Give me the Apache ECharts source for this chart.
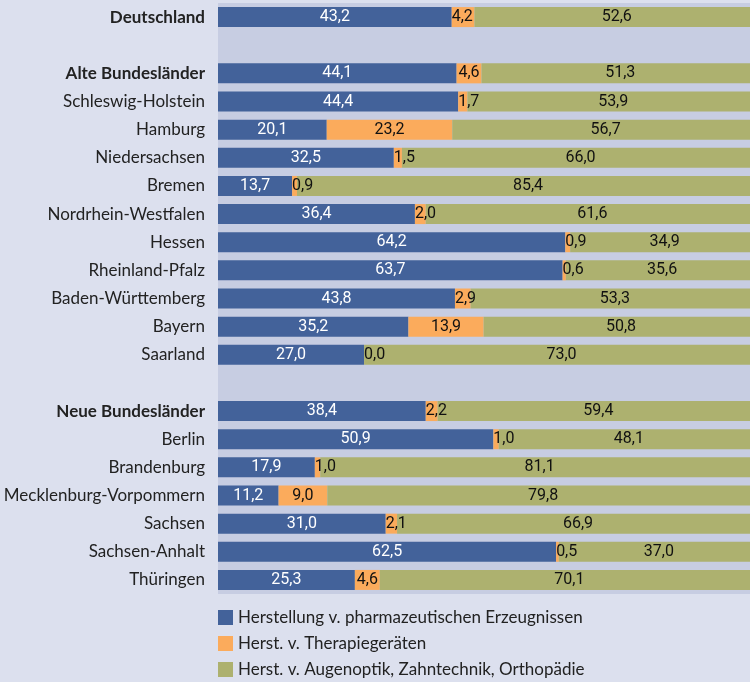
<!DOCTYPE html>
<html lang="de">

<head>
  <meta charset="UTF-8">
  <title>Anteile Medizintechnik</title>
  <script src="https://cdn.jsdelivr.net/npm/echarts@6/dist/echarts.min.js"></script>
  <style>
    * {
      padding: 0;
      margin: 0;
    }

    #box {
      width: 750px;
      height: 682px;
    }
  </style>
</head>

<body>
  <div id="box"></div>
  <script>
    // Zeilen (leere Namen = Abstandszeilen)
    var laender = ['Deutschland', ' ', 'Alte Bundesländer', 'Schleswig-Holstein', 'Hamburg', 'Niedersachsen',
      'Bremen', 'Nordrhein-Westfalen', 'Hessen', 'Rheinland-Pfalz', 'Baden-Württemberg', 'Bayern', 'Saarland',
      '  ', 'Neue Bundesländer', 'Berlin', 'Brandenburg', 'Mecklenburg-Vorpommern', 'Sachsen', 'Sachsen-Anhalt',
      'Thüringen']
    var fett = ['Deutschland', 'Alte Bundesländer', 'Neue Bundesländer']

    var pharma = [43.2, null, 44.1, 44.4, 20.1, 32.5, 13.7, 36.4, 64.2, 63.7, 43.8, 35.2, 27.0,
      null, 38.4, 50.9, 17.9, 11.2, 31.0, 62.5, 25.3]
    var therapie = [4.2, null, 4.6, 1.7, 23.2, 1.5, 0.9, 2.0, 0.9, 0.6, 2.9, 13.9, 0.0,
      null, 2.2, 1.0, 1.0, 9.0, 2.1, 0.5, 4.6]
    var optik = [52.6, null, 51.3, 53.9, 56.7, 66.0, 85.4, 61.6, 34.9, 35.6, 53.3, 50.8, 73.0,
      null, 59.4, 48.1, 81.1, 79.8, 66.9, 37.0, 70.1]

    var namen = ['Herstellung v. pharmazeutischen Erzeugnissen', 'Herst. v. Therapiegeräten',
      'Herst. v. Augenoptik, Zahntechnik, Orthopädie']

    function fmt(p) {
      return p.value == null ? '' : p.value.toFixed(1).replace('.', ',')
    }

    // kleine Segmente: Beschriftung links ansetzen statt mittig
    var therapieDaten = therapie.map(function (v) {
      if (v != null && v < 4.5) {
        return { value: v, label: { position: 'insideLeft', distance: 0 } }
      }
      return v
    })

    var mCharts = echarts.init(document.getElementById('box'))
    var option = {
      backgroundColor: '#dce0ee',
      animation: false,
      textStyle: { fontFamily: 'Lato' },
      grid: {
        left: 218,
        top: 3,
        width: 541,
        height: 591,
        outerBoundsMode: 'none',
        show: true,
        backgroundColor: '#c7cde2',
        borderWidth: 0
      },
      legend: {
        orient: 'vertical',
        left: 218,
        top: 609,
        height: 80,
        padding: 0,
        itemWidth: 15,
        itemHeight: 15,
        itemGap: 9,
        icon: 'rect',
        textStyle: { fontFamily: 'Lato', fontSize: 17, color: '#222', lineHeight: 17 },
        data: namen
      },
      xAxis: {
        type: 'value',
        min: 0,
        max: 100,
        show: false
      },
      yAxis: {
        type: 'category',
        inverse: true,
        data: laender,
        axisLine: { show: false },
        axisTick: { show: false },
        axisLabel: {
          margin: 13,
          fontSize: 17,
          color: '#222',
          formatter: function (v) {
            return fett.indexOf(v) >= 0 ? '{b|' + v + '}' : v
          },
          rich: {
            b: { fontFamily: 'Lato', fontWeight: 'bold', fontSize: 17, color: '#222' }
          }
        }
      },
      series: [{
        name: namen[0],
        type: 'bar',
        stack: 'a',
        barWidth: 20,
        itemStyle: { color: '#43629a' },
        label: { show: true, position: 'inside', color: '#fff', fontFamily: 'Roboto', fontSize: 16, formatter: fmt },
        data: pharma
      }, {
        name: namen[1],
        type: 'bar',
        stack: 'a',
        barWidth: 20,
        itemStyle: { color: '#fbab5c' },
        label: { show: true, position: 'inside', color: '#111', fontFamily: 'Roboto', fontSize: 16, formatter: fmt },
        data: therapieDaten
      }, {
        name: namen[2],
        type: 'bar',
        stack: 'a',
        barWidth: 20,
        itemStyle: { color: '#adb16f' },
        label: { show: true, position: 'inside', color: '#111', fontFamily: 'Roboto', fontSize: 16, formatter: fmt },
        data: optik
      }]
    }
    mCharts.setOption(option)
  </script>
</body>

</html>
